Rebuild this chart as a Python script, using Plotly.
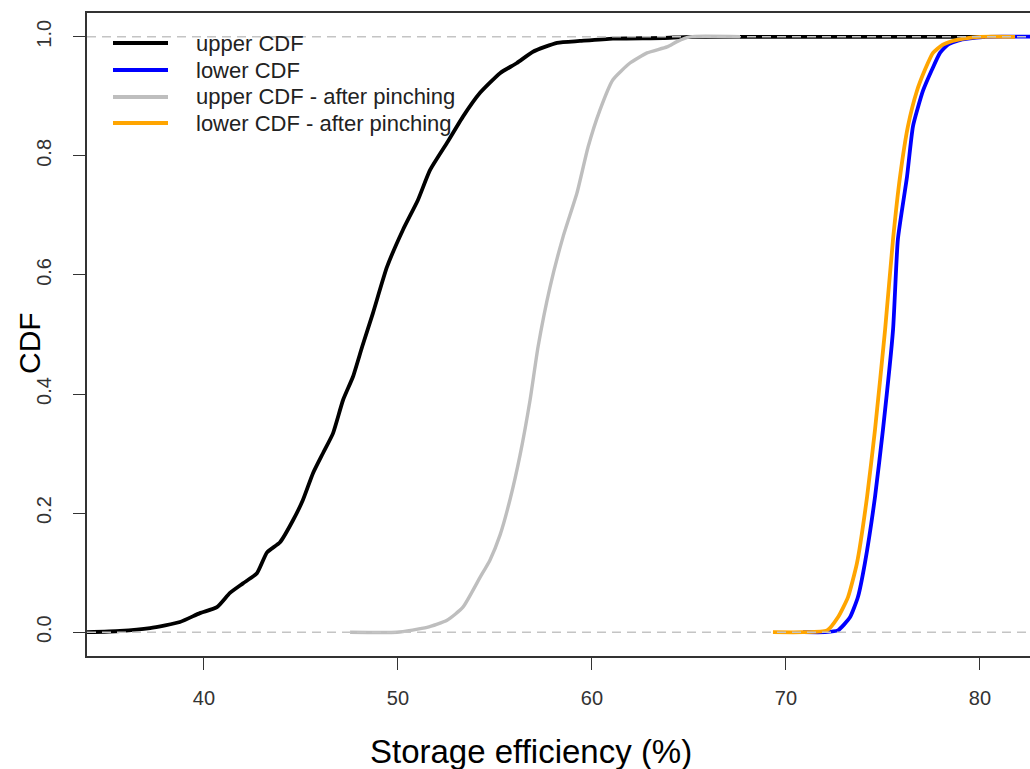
import plotly.graph_objects as go

# ---- data ----
upper_x = [33.97, 35.67, 37.22, 38.76, 39.79, 40.67, 41.34, 42.01, 42.73, 43.25, 43.92, 44.59,
           45.10, 45.62, 46.14, 46.65, 47.17, 47.68, 48.15, 48.71, 49.43, 50.26, 51.03, 51.65,
           52.53, 53.35, 54.23, 55.26, 56.13, 56.96, 58.20, 59.38, 61.08, 63.66, 65.05, 80.26]
upper_y = [0.0, 0.002, 0.007, 0.017, 0.032, 0.042, 0.066, 0.082, 0.099, 0.134, 0.151, 0.188,
           0.222, 0.267, 0.301, 0.334, 0.390, 0.429, 0.479, 0.536, 0.613, 0.676, 0.726, 0.776,
           0.822, 0.866, 0.906, 0.939, 0.956, 0.975, 0.990, 0.993, 0.997, 0.998, 1.0, 1.0]

lower_x = [70.88, 72.01, 72.68, 73.30, 73.71, 74.07, 74.59, 75.00, 75.52, 75.77, 76.24, 76.55,
           77.06, 77.53, 77.94, 78.35, 79.00, 80.26, 83.09]
lower_y = [0.0, 0.0, 0.003, 0.025, 0.059, 0.116, 0.227, 0.340, 0.508, 0.660, 0.765, 0.850,
           0.909, 0.945, 0.973, 0.987, 0.995, 1.0, 1.0]

upper_p_x = [47.53, 49.95, 51.50, 52.53, 53.35, 54.23, 54.74, 55.26, 55.77, 56.29, 56.81, 57.22,
             57.84, 58.51, 59.23, 59.80, 60.41, 61.08, 61.96, 62.84, 63.87, 64.38, 65.05, 67.63]
upper_p_y = [0.0, 0.0, 0.008, 0.020, 0.042, 0.092, 0.121, 0.163, 0.222, 0.297, 0.390, 0.479,
             0.580, 0.664, 0.738, 0.815, 0.877, 0.928, 0.956, 0.973, 0.983, 0.992, 1.0, 1.0]

lower_p_x = [69.33, 70.88, 72.12, 72.68, 73.20, 73.66, 74.18, 74.59, 75.11, 75.52, 75.88, 76.29,
             76.75, 77.17, 77.58, 78.09, 78.82, 80.00, 81.81]
lower_p_y = [0.0, 0.0, 0.003, 0.025, 0.059, 0.116, 0.227, 0.340, 0.508, 0.660, 0.765, 0.850,
             0.909, 0.945, 0.973, 0.987, 0.995, 1.0, 1.0]

series_names = ["upper CDF", "lower CDF", "upper CDF - after pinching", "lower CDF - after pinching"]
series_colors = ["#000000", "#0000ff", "#bebebe", "#ffa500"]
series_widths = [3.8, 3.8, 3.4, 3.8]

x_ticks = [40, 50, 60, 70, 80]
y_ticks = [0.0, 0.2, 0.4, 0.6, 0.8, 1.0]
y_tick_labels = ["0.0", "0.2", "0.4", "0.6", "0.8", "1.0"]
ref_levels = [0.0, 1.0]

# ---- layout geometry ----
W, H = 1030, 769
ML, MR, MT, MB = 87, 0, 13, 113
PW, PH = W - ML - MR, H - MT - MB
FONT = "Liberation Sans, Arial, sans-serif"


def px_x(px):
    return (px - ML) / PW


def px_y(py):
    return (H - MB - py) / PH


fig = go.Figure()
data = [(upper_x, upper_y), (lower_x, lower_y), (upper_p_x, upper_p_y), (lower_p_x, lower_p_y)]
for (xs, ys), name, col, w in zip(data, series_names, series_colors, series_widths):
    fig.add_trace(go.Scatter(x=xs, y=ys, mode="lines", name=name,
                             line=dict(color=col, width=w, shape="spline", smoothing=0.5),
                             showlegend=False))

shapes = []
for lv in ref_levels:
    shapes.append(dict(type="line", xref="paper", x0=0, x1=1, yref="y", y0=lv, y1=lv,
                       line=dict(color="#c4c4c4", width=1.5, dash="9px,6px"), layer="above"))

# manual legend (line samples + labels)
annotations = []
row_y = [43, 70, 97, 123]
for name, col, ry in zip(series_names, series_colors, row_y):
    shapes.append(dict(type="line", xref="paper", yref="paper", x0=px_x(113), x1=px_x(168),
                       y0=px_y(ry), y1=px_y(ry), line=dict(color=col, width=3.8), layer="above"))
    annotations.append(dict(text=name, xref="paper", yref="paper", x=px_x(194), y=px_y(ry),
                            xanchor="left", yanchor="middle", showarrow=False,
                            font=dict(family=FONT, size=22, color="#222222")))

annotations.append(dict(text="Storage efficiency (%)", xref="paper", yref="paper",
                        x=px_x(531), y=px_y(751), xanchor="center", yanchor="middle",
                        showarrow=False, font=dict(family=FONT, size=33, color="#000000")))
annotations.append(dict(text="CDF", xref="paper", yref="paper", x=px_x(29), y=px_y(343),
                        xanchor="center", yanchor="middle", textangle=-90,
                        showarrow=False, font=dict(family=FONT, size=30, color="#000000")))

fig.update_layout(
    width=W, height=H,
    margin=dict(l=ML, r=MR, t=MT, b=MB, pad=0),
    plot_bgcolor="white", paper_bgcolor="white",
    showlegend=False,
    shapes=shapes, annotations=annotations,
    font=dict(family=FONT, color="#333333"),
)
fig.update_xaxes(range=[33.97, 82.58], tickvals=x_ticks, ticks="outside", ticklen=12,
                 tickwidth=1.3, tickcolor="#333333", showline=True, linecolor="#333333",
                 linewidth=1.5, mirror=True, showgrid=False, zeroline=False,
                 tickfont=dict(size=20, color="#333333"), ticklabelstandoff=11)
fig.update_yaxes(range=[-0.04, 1.04], tickvals=y_ticks, ticktext=y_tick_labels,
                 ticks="outside", ticklen=12, tickwidth=1.3, tickcolor="#333333",
                 showline=True, linecolor="#333333", linewidth=1.5, mirror=False,
                 showgrid=False, zeroline=False, tickangle=-90,
                 tickfont=dict(size=20, color="#333333"), ticklabelstandoff=14)

fig.write_html("out.html")
